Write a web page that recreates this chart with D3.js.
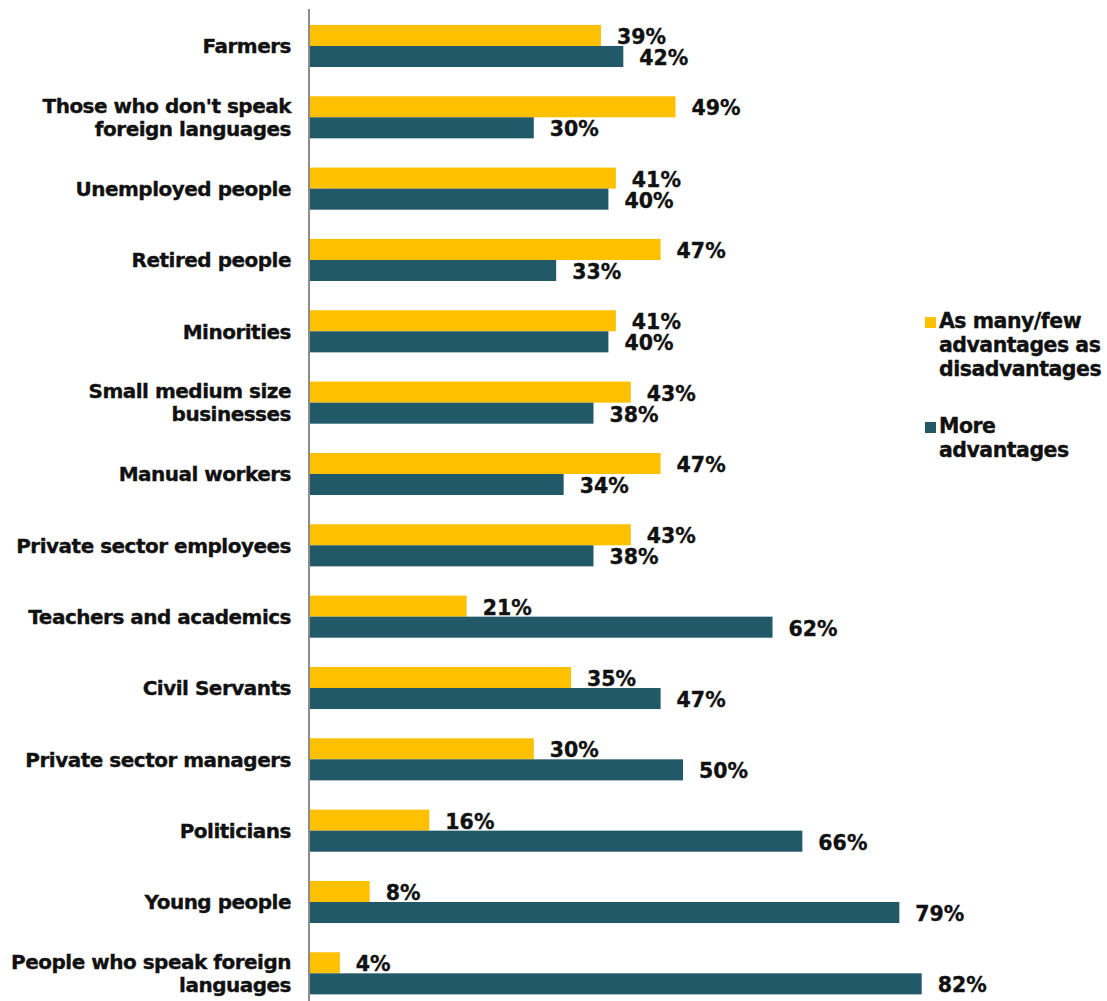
<!DOCTYPE html>
<html>
<head>
<meta charset="utf-8">
<script src="https://cdn.jsdelivr.net/npm/d3@7"></script>
<style>
  html, body { margin: 0; padding: 0; background: #fff; }
  svg { display: block; }
  text { font-family: "DejaVu Sans", Verdana, sans-serif; font-weight: bold; stroke: #111; stroke-width: 0.35px; }
</style>
</head>
<body>
<svg id="chart" width="1107" height="1001"></svg>
<script>
// Groups, top to bottom (labels wrap over lines with "|")
const categories = [
  "Farmers",
  "Those who don't speak|foreign languages",
  "Unemployed people",
  "Retired people",
  "Minorities",
  "Small medium size|businesses",
  "Manual workers",
  "Private sector employees",
  "Teachers and academics",
  "Civil Servants",
  "Private sector managers",
  "Politicians",
  "Young people",
  "People who speak foreign|languages"
];

// Share answering "As many/few advantages as disadvantages" (%)
const asManyAsDisadvantages = [39, 49, 41, 47, 41, 43, 47, 43, 21, 35, 30, 16, 8, 4];
// Share answering "More advantages" (%)
const moreAdvantages = [42, 30, 40, 33, 40, 38, 34, 38, 62, 47, 50, 66, 79, 82];

const seriesNames = ["As many/few|advantages as|disadvantages", "More|advantages"];
const seriesKeys = ["same", "more"];
const colors = ["#FFC000", "#215968"];

const rows = categories.map((c, i) => ({
  category: c,
  same: asManyAsDisadvantages[i],
  more: moreAdvantages[i]
}));

const svg = d3.select("#chart");
const axisX = 310;

const x = d3.scaleLinear().domain([0, 100]).range([axisX, axisX + 746]);
const y = d3.scaleBand()
  .domain(categories)
  .range([10.3, 1009])
  .paddingInner(0.41)
  .paddingOuter(0.205);
const ySub = d3.scaleBand().domain(seriesKeys).range([0, y.bandwidth()]);
const color = d3.scaleOrdinal().domain(seriesKeys).range(colors);

// Bars
const groups = svg.append("g").selectAll("g")
  .data(rows)
  .join("g")
  .attr("transform", d => `translate(0,${y(d.category)})`);

groups.selectAll("rect")
  .data(d => seriesKeys.map(k => ({ key: k, value: d[k] })))
  .join("rect")
  .attr("x", x(0))
  .attr("y", d => ySub(d.key))
  .attr("width", d => x(d.value) - x(0))
  .attr("height", ySub.bandwidth())
  .attr("fill", d => color(d.key));

// Value labels
groups.selectAll("text.value")
  .data(d => seriesKeys.map(k => ({ key: k, value: d[k] })))
  .join("text")
  .attr("class", "value")
  .attr("x", d => x(d.value) + 16)
  .attr("y", d => ySub(d.key) + ySub.bandwidth() / 2 + 1)
  .attr("dy", "0.36em")
  .attr("font-size", 20.5)
  .attr("fill", "#111")
  .text(d => d.value + "%");

// Vertical category axis line
svg.append("line")
  .attr("x1", axisX - 1).attr("x2", axisX - 1)
  .attr("y1", 9).attr("y2", 1001)
  .attr("stroke", "#8c8c8c")
  .attr("stroke-width", 2);

// Category labels
const catLabels = svg.append("g").selectAll("text")
  .data(categories)
  .join("text")
  .attr("text-anchor", "end")
  .attr("font-size", 20)
  .attr("letter-spacing", -0.5)
  .attr("fill", "#111")
  .attr("transform", d => `translate(291,${y(d) + y.bandwidth() / 2})`);

catLabels.each(function(d) {
  const lines = d.split("|");
  const lh = 23;
  const t = d3.select(this);
  lines.forEach((ln, i) => {
    t.append("tspan")
      .attr("x", 0)
      .attr("y", (i - (lines.length - 1) / 2) * lh)
      .attr("dy", "0.36em")
      .text(ln);
  });
});

// Legend
const legendTops = [312, 417];
const legend = svg.append("g").selectAll("g")
  .data(seriesKeys)
  .join("g")
  .attr("transform", (d, i) => `translate(925,${legendTops[i]})`);

legend.append("rect")
  .attr("y", 5)
  .attr("width", 11)
  .attr("height", 11)
  .attr("fill", d => color(d));

legend.append("text")
  .attr("font-size", 20.5)
  .attr("letter-spacing", -0.5)
  .attr("fill", "#111")
  .each(function(d, i) {
    const t = d3.select(this);
    seriesNames[i].split("|").forEach((ln, j) => {
      t.append("tspan")
        .attr("x", 14)
        .attr("y", 16 + j * 24)
        .text(ln);
    });
  });
</script>
</body>
</html>
